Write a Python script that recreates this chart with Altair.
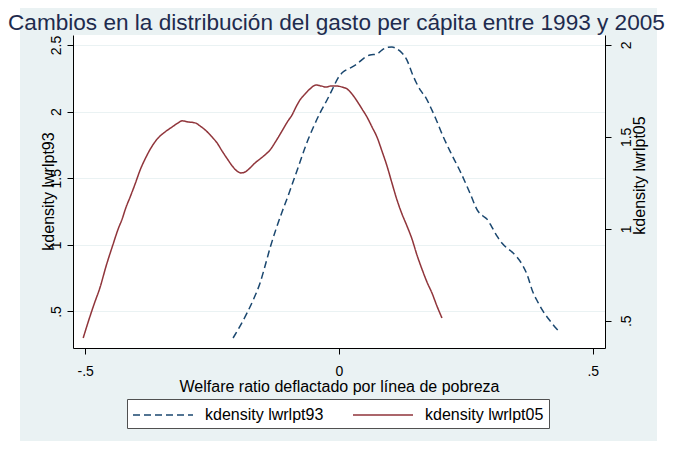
import altair as alt
import pandas as pd

# ---- data ----
x93 = [-0.2087, -0.1949, -0.1811, -0.1673, -0.1555, -0.1457, -0.1358, -0.1240, -0.1122, -0.1004,
       -0.0886, -0.0768, -0.0650, -0.0512, -0.0374, -0.0236, -0.0118, -0.0020, 0.0079, 0.0217,
       0.0354, 0.0492, 0.0610, 0.0748, 0.0846, 0.0945, 0.1043, 0.1142, 0.1240, 0.1339,
       0.1437, 0.1516, 0.1614, 0.1713, 0.1811, 0.1909, 0.2047, 0.2224, 0.2402, 0.2579,
       0.2736, 0.2835, 0.2913, 0.3012, 0.3110, 0.3209, 0.3307, 0.3406, 0.3504, 0.3602,
       0.3701, 0.3819, 0.3917, 0.4016, 0.4114, 0.4193, 0.4272, 0.4350]
y93 = [0.301, 0.391, 0.489, 0.601, 0.714, 0.841, 0.977, 1.119, 1.247, 1.367,
       1.494, 1.622, 1.750, 1.877, 1.990, 2.087, 2.177, 2.252, 2.297, 2.327,
       2.357, 2.402, 2.425, 2.432, 2.462, 2.481, 2.485, 2.470, 2.440, 2.387,
       2.290, 2.222, 2.155, 2.103, 2.027, 1.945, 1.817, 1.675, 1.540, 1.389,
       1.254, 1.217, 1.194, 1.134, 1.067, 1.014, 0.977, 0.947, 0.910, 0.857,
       0.781, 0.646, 0.571, 0.504, 0.451, 0.413, 0.376, 0.346]

x05 = [-0.5039, -0.4941, -0.4823, -0.4705, -0.4587, -0.4449, -0.4350, -0.4272, -0.4193, -0.4114,
       -0.4016, -0.3917, -0.3799, -0.3681, -0.3563, -0.3425, -0.3287, -0.3169, -0.3091, -0.2972,
       -0.2835, -0.2736, -0.2638, -0.2520, -0.2402, -0.2303, -0.2185, -0.2087, -0.2008, -0.1929,
       -0.1850, -0.1752, -0.1654, -0.1555, -0.1457, -0.1358, -0.1240, -0.1122, -0.1004, -0.0925,
       -0.0846, -0.0768, -0.0669, -0.0571, -0.0453, -0.0354, -0.0256, -0.0157, -0.0059, 0.0059,
       0.0157, 0.0256, 0.0354, 0.0453, 0.0551, 0.0650, 0.0748, 0.0846, 0.0945, 0.1043,
       0.1142, 0.1240, 0.1339, 0.1437, 0.1535, 0.1634, 0.1732, 0.1831, 0.1929, 0.2028]
y05 = [0.406, 0.493, 0.591, 0.683, 0.798, 0.917, 0.999, 1.053, 1.119, 1.173,
       1.244, 1.320, 1.391, 1.450, 1.494, 1.527, 1.554, 1.576, 1.587, 1.581,
       1.576, 1.559, 1.538, 1.505, 1.467, 1.423, 1.374, 1.336, 1.314, 1.304,
       1.309, 1.331, 1.358, 1.380, 1.402, 1.429, 1.478, 1.532, 1.587, 1.619,
       1.663, 1.701, 1.733, 1.761, 1.782, 1.777, 1.771, 1.777, 1.777, 1.771,
       1.761, 1.733, 1.695, 1.652, 1.608, 1.554, 1.499, 1.423, 1.342, 1.249,
       1.157, 1.081, 1.015, 0.945, 0.858, 0.781, 0.711, 0.651, 0.580, 0.515]

series_labels = ["kdensity lwrlpt93", "kdensity lwrlpt05"]
x_ticks = [-0.5, 0, 0.5]
y93_ticks = [0.5, 1, 1.5, 2, 2.5]
y05_ticks = [0.5, 1, 1.5, 2]

title_text = "Cambios en la distribución del gasto per cápita entre 1993 y 2005"
x_title = "Welfare ratio deflactado por línea de pobreza"

NAVY = "#1A476F"
MAROON = "#90353B"
BG = "#EAF2F3"
FONT = "Liberation Sans"

df93 = pd.DataFrame({"x": x93, "y": y93, "serie": series_labels[0]})
df05 = pd.DataFrame({"x": x05, "y": y05, "serie": series_labels[1]})

label_expr = "replace(toString(datum.value), '0.', '.')"

xscale = alt.Scale(domain=[-0.524, 0.524], nice=False, zero=False)
color_scale = alt.Scale(domain=series_labels, range=[NAVY, MAROON])
dash_scale = alt.Scale(domain=series_labels, range=[[7, 4], [1, 0]])

legend = alt.Legend(
    title=None, orient="none", legendX=54, legendY=364, direction="horizontal",
    columns=2, symbolType="M-3,0H3", symbolSize=400, symbolStrokeWidth=1.5,
    symbolOffset=20, labelOffset=31,
    fillColor="white", strokeColor="#505050", padding=5, labelFontSize=16,
    labelFont=FONT, labelColor="#000000", columnPadding=26,
)

xaxis = alt.Axis(
    values=x_ticks, labelExpr=label_expr, title=x_title, grid=False,
    tickSize=6, labelPadding=21, labelBaseline="alphabetic", labelAlign="center",
    titleY=43, titleBaseline="alphabetic",
)

yaxis_l = alt.Axis(
    orient="left", values=y93_ticks, labelExpr=label_expr, title=series_labels[0],
    grid=True, gridColor=BG, gridWidth=1, tickSize=6,
    labelAngle=270, labelAlign="center", labelBaseline="alphabetic", labelPadding=7,
    titleAngle=270, titleX=-20, titleY=156, titleAlign="center", titleBaseline="alphabetic",
)
yaxis_r = alt.Axis(
    orient="right", values=y05_ticks, labelExpr=label_expr, title=series_labels[1],
    grid=False, tickSize=6,
    labelAngle=270, labelAlign="center", labelBaseline="alphabetic", labelPadding=19,
    titleAngle=270, titleX=39, titleY=140, titleAlign="center", titleBaseline="alphabetic",
)

line93 = alt.Chart(df93).mark_line(strokeWidth=1.5, interpolate="monotone").encode(
    x=alt.X("x:Q", scale=xscale, axis=xaxis),
    y=alt.Y("y:Q", scale=alt.Scale(domain=[0.226, 2.575], nice=False, zero=False), axis=yaxis_l),
    color=alt.Color("serie:N", scale=color_scale, legend=legend),
    strokeDash=alt.StrokeDash("serie:N", scale=dash_scale, legend=legend),
)
line05 = alt.Chart(df05).mark_line(strokeWidth=1.5, interpolate="monotone").encode(
    x=alt.X("x:Q", scale=xscale, axis=xaxis),
    y=alt.Y("y:Q", scale=alt.Scale(domain=[0.3515, 2.054], nice=False, zero=False), axis=yaxis_r),
    color=alt.Color("serie:N", scale=color_scale, legend=legend),
    strokeDash=alt.StrokeDash("serie:N", scale=dash_scale, legend=legend),
)

dummy = pd.DataFrame({"k": [0]})
strip_l = alt.Chart(dummy).mark_rect(color="white", clip=False).encode(
    x=alt.value(-65), x2=alt.value(-53), y=alt.value(-27), y2=alt.value(406))
strip_r = alt.Chart(dummy).mark_rect(color="white", clip=False).encode(
    x=alt.value(584), x2=alt.value(600), y=alt.value(-27), y2=alt.value(406))

chart = alt.layer(strip_l, strip_r, line93, line05).resolve_scale(
    y="independent"
).properties(
    width=532, height=313, autosize="none",
    padding={"left": 65, "top": 27, "right": 68, "bottom": 93},
    background=BG,
    title=alt.Title(
        text=title_text, anchor="start", frame="group", dx=-65, dy=45, offset=0,
        fontSize=22.6, font=FONT, fontWeight="normal", color="#1E2B4E",
        baseline="alphabetic", zindex=1,
    ),
).configure_view(
    fill="white", stroke=None
).configure_axis(
    domainColor="#000000", tickColor="#000000", labelColor="#000000", titleColor="#000000",
    labelFont=FONT, titleFont=FONT, labelFontSize=14, titleFontSize=16,
    titleFontWeight="normal", domainWidth=1, tickWidth=1,
)

chart.save("out.html", embed_options={"renderer": "svg", "actions": False})
